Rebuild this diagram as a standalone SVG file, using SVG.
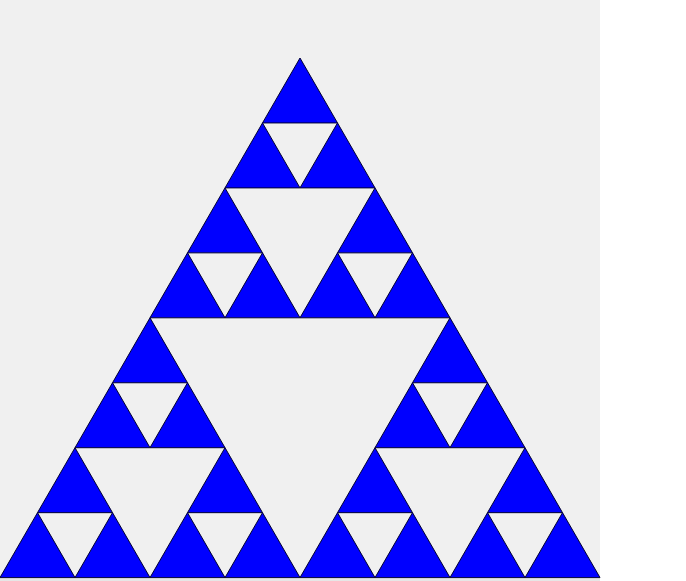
<svg xmlns="http://www.w3.org/2000/svg" xmlns:xlink="http://www.w3.org/1999/xlink" width="686" height="581" viewBox="0 0 686 581">
  <style>
    .tri { fill: #0000ff; stroke: #000033; stroke-width: 1; stroke-linejoin: miter; }
  </style>
  <defs>
    <polygon id="t" class="tri" points="0,0 -37.5,64.95 37.5,64.95"/>
  </defs>
  <rect x="0" y="0" width="686" height="581" fill="#ffffff"/>
  <rect x="0" y="0" width="600" height="581" fill="#f0f0f0"/>
  <rect x="0" y="578.5" width="600" height="2.5" fill="#e6e6e6"/>
  <g id="sierpinski">
    <use xlink:href="#t" x="300" y="58"/>
    <use xlink:href="#t" x="262.5" y="122.95"/>
    <use xlink:href="#t" x="337.5" y="122.95"/>
    <use xlink:href="#t" x="225" y="187.9"/>
    <use xlink:href="#t" x="187.5" y="252.85"/>
    <use xlink:href="#t" x="262.5" y="252.85"/>
    <use xlink:href="#t" x="375" y="187.9"/>
    <use xlink:href="#t" x="337.5" y="252.85"/>
    <use xlink:href="#t" x="412.5" y="252.85"/>
    <use xlink:href="#t" x="150" y="317.81"/>
    <use xlink:href="#t" x="112.5" y="382.76"/>
    <use xlink:href="#t" x="187.5" y="382.76"/>
    <use xlink:href="#t" x="75" y="447.71"/>
    <use xlink:href="#t" x="37.5" y="512.66"/>
    <use xlink:href="#t" x="112.5" y="512.66"/>
    <use xlink:href="#t" x="225" y="447.71"/>
    <use xlink:href="#t" x="187.5" y="512.66"/>
    <use xlink:href="#t" x="262.5" y="512.66"/>
    <use xlink:href="#t" x="450" y="317.81"/>
    <use xlink:href="#t" x="412.5" y="382.76"/>
    <use xlink:href="#t" x="487.5" y="382.76"/>
    <use xlink:href="#t" x="375" y="447.71"/>
    <use xlink:href="#t" x="337.5" y="512.66"/>
    <use xlink:href="#t" x="412.5" y="512.66"/>
    <use xlink:href="#t" x="525" y="447.71"/>
    <use xlink:href="#t" x="487.5" y="512.66"/>
    <use xlink:href="#t" x="562.5" y="512.66"/>
  </g>
</svg>
